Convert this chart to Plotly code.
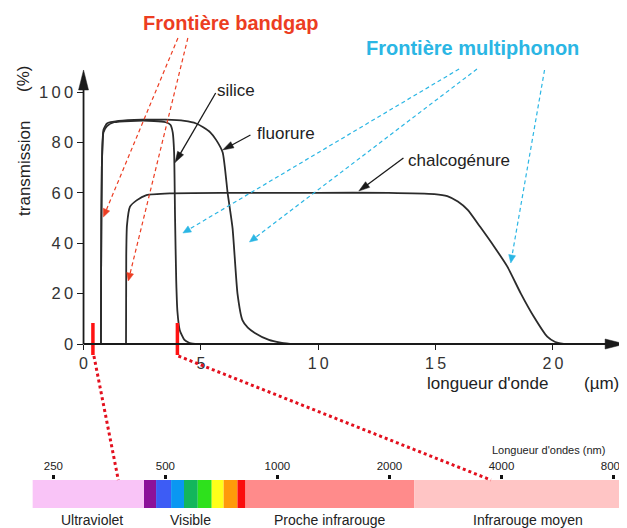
import math
import plotly.graph_objects as go

# transmission curves: wavelength (µm) / transmission (%)
silice_um = [0.74, 0.75, 0.78, 0.85, 1.0, 1.3, 2.0, 3.0, 3.5, 3.7, 3.8, 3.86, 3.9, 3.95, 4.0, 4.1, 4.3, 4.5, 4.75]
silice_pct = [0, 30, 70, 84, 86.5, 88, 88.5, 88.5, 88, 87, 84, 76, 50, 25, 13, 5.5, 1.6, 0.5, 0]

fluorure_um = [0.74, 0.75, 0.78, 0.85, 1.0, 1.5, 2.5, 3.5, 4.3, 4.8, 5.1, 5.4, 5.65, 5.93, 6.14, 6.35,
               6.56, 6.77, 7.0, 7.3, 7.9, 8.4, 8.8]
fluorure_pct = [0, 30, 70, 85, 87.5, 88.5, 89, 89, 88.5, 87.5, 86, 84, 81, 76, 60, 46,
                20, 9.5, 6.5, 4.4, 1.6, 0.5, 0]

chalco_um = [1.81, 1.82, 1.85, 1.98, 2.26, 2.68, 3.67, 6, 10, 13, 14.95, 15.5, 15.95, 16.37, 16.9,
             17.5, 18.06, 18.63, 19.19, 19.76, 20.1, 20.46]
chalco_pct = [0, 35, 47, 54.5, 57, 59.1, 59.8, 60, 60, 60, 59.5, 58.7, 56.5, 53.2, 46.5,
              38.6, 30.7, 20.1, 10.8, 2.9, 0.8, 0]

x_ticks = [0, 5, 10, 15, 20]
y_ticks = [0, 20, 40, 60, 80, 100]

# red marks on the wavelength axis (µm)
marker_um = [0.4, 4.0]

# spectrum strip (nm)
spectrum_edges_nm = [220, 438, 472, 518, 561, 611, 666, 717, 781, 821, 2333, 8700]
spectrum_colors = ["#f9c4f7", "#8c1199", "#3d5cf5", "#0a97f2", "#13b65c", "#2ee11c",
                   "#ffff1a", "#ff9a0a", "#fb0d0d", "#ff8b8b", "#ffc5c5"]
spectrum_ticks_nm = [250, 500, 1000, 2000, 4000, 8000]
spectrum_regions = ["Ultraviolet", "Visible", "Proche infrarouge", "Infrarouge moyen"]

# ---- geometry (window pixels); the page body shifts the figure by 8px
PAGE_W, PAGE_H = 627, 528
OFF = 8
W, H = PAGE_W - OFF, PAGE_H - OFF
X0, KX = 80, 23.62      # px of 0 µm, px per µm
Y0, KY = 344, 2.52      # px of 0 %, px per %
TOP, BOTTOM = 60, 362
BAR_TOP, BAR_BOT = 480, 508
NM_PX0, NM_OCT = 49.6, 112.77   # px of 250 nm, px per octave
FONT = "Liberation Sans, Arial, sans-serif"
RED = "#ec3d22"
CYAN = "#2bb6e4"
INK = "#222222"
AXIS = "#1a1a1a"


def um_px(um):
    return X0 + um * KX


def pct_py(p):
    return Y0 - p * KY


def P(xp, yp):
    return (xp - OFF) / W, 1 - (yp - OFF) / H


def nm_log(xp):
    return math.log10(250) + (xp - NM_PX0) / NM_OCT * math.log10(2)


shapes = []
annotations = []


def line(x0, y0, x1, y1, color, width, dash="solid"):
    a, b = P(x0, y0)
    c, d = P(x1, y1)
    shapes.append(dict(type="line", xref="paper", yref="paper", x0=a, y0=b, x1=c, y1=d,
                       line=dict(color=color, width=width, dash=dash)))


def arrow(x0, y0, x1, y1, color, width, hl, hw, dash="solid"):
    L = math.hypot(x1 - x0, y1 - y0)
    dx, dy = (x1 - x0) / L, (y1 - y0) / L
    bx, by = x1 - dx * hl, y1 - dy * hl
    line(x0, y0, bx + dx * 2, by + dy * 2, color, width, dash)
    nx, ny = -dy, dx
    pts = [(x1, y1), (bx + nx * hw / 2, by + ny * hw / 2), (bx - nx * hw / 2, by - ny * hw / 2)]
    path = "M" + " L".join("%.5f,%.5f" % P(*p) for p in pts) + " Z"
    shapes.append(dict(type="path", xref="paper", yref="paper", path=path,
                       fillcolor=color, line=dict(color=color, width=0.5)))


def text(s, xp, yp, size, color=INK, bold=False, angle=0):
    a, b = P(xp, yp)
    annotations.append(dict(text="<b>%s</b>" % s if bold else s, x=a, y=b, xref="paper", yref="paper",
                            showarrow=False, xanchor="center", yanchor="middle", textangle=angle,
                            font=dict(family=FONT, size=size, color=color)))


fig = go.Figure()

# spectrum strip
for i, c in enumerate(spectrum_colors):
    a, b = spectrum_edges_nm[i], spectrum_edges_nm[i + 1]
    fig.add_trace(go.Scatter(x=[a, b, b, a, a], y=[0, 0, 1, 1, 0], fill="toself", fillcolor=c,
                             mode="lines", line=dict(width=0, color=c), xaxis="x2", yaxis="y2",
                             hoverinfo="skip", showlegend=False))

# curves
for xs, ys in [(silice_um, silice_pct), (fluorure_um, fluorure_pct), (chalco_um, chalco_pct)]:
    fig.add_trace(go.Scatter(x=xs, y=ys, mode="lines", line=dict(color="#2b2b2b", width=1.8,
                             shape="spline", smoothing=0.5), hoverinfo="skip", showlegend=False))

# red marks
mx, my = [], []
for m in marker_um:
    mx += [m, m, None]
    my += [-4.4, 8.3, None]
fig.add_trace(go.Scatter(x=mx, y=my, mode="lines", line=dict(color="#ff1212", width=3.5),
                         hoverinfo="skip", showlegend=False))

# axes with arrowheads
arrow(X0, Y0, 625, Y0, AXIS, 1.8, 20, 10)
arrow(X0, Y0, X0, 70, AXIS, 1.8, 20, 10)

# curve labels
arrow(213, 93, um_px(3.9), pct_py(72), AXIS, 1.3, 11, 7)
arrow(248, 135, um_px(5.93), pct_py(77), AXIS, 1.3, 11, 7)
arrow(402, 158, um_px(11.73), pct_py(60.7), AXIS, 1.3, 11, 7)
text("silice", 233, 90, 17)
text("fluorure", 284, 133, 17)
text("chalcogénure", 458, 160, 17)

# boundaries
text("Frontière bandgap", 228, 23, 20, RED, bold=True)
text("Frontière multiphonon", 471, 48, 20, CYAN, bold=True)
arrow(175, 38, 100, 217, RED, 1.2, 8, 7, "4px,3px")
arrow(185, 38, 125, 281, RED, 1.2, 8, 7, "4px,3px")
arrow(458, 69, 180, 233, CYAN, 1.2, 8, 7, "4px,3px")
arrow(476, 69, 247, 242, CYAN, 1.2, 8, 7, "4px,3px")
arrow(544, 70, 510, 263, CYAN, 1.2, 8, 7, "4px,3px")

# links to the spectrum
line(um_px(marker_um[0]) + 1, 356, 115, BAR_TOP, "#e3101e", 3, "3px,3px")
line(um_px(marker_um[1]) + 1, 356, 490, BAR_TOP, "#e3101e", 3, "3px,3px")

# axis titles
text("transmission", 20, 168, 17, angle=-90)
text("(%)", 20, 79, 17, angle=-90)
text("longueur d'onde", 487, 383, 17)
text("(µm)", 601, 383, 17)

# spectrum labels
text("Longueur d'ondes (nm)", 548, 450, 11)
for s, xp in zip(spectrum_regions, [89, 188, 328, 527]):
    text(s, xp, 520, 14)

fig.update_layout(
    width=W, height=H, margin=dict(l=0, r=0, t=0, b=0),
    paper_bgcolor="white", plot_bgcolor="white",
    shapes=shapes, annotations=annotations,
    xaxis=dict(domain=[(X0 - OFF) / W, 1], range=[0, (PAGE_W - X0) / KX], anchor="free",
               position=1 - (Y0 - OFF) / H,
               tickvals=x_ticks, ticktext=["\u2009".join(str(v)) for v in x_ticks],
               ticks="outside", ticklen=5, tickwidth=1.4, tickcolor=AXIS,
               tickfont=dict(family=FONT, size=16, color="#333"),
               showgrid=False, zeroline=False, showline=False),
    yaxis=dict(domain=[1 - (BOTTOM - OFF) / H, 1 - (TOP - OFF) / H],
               range=[(Y0 - BOTTOM) / KY, (Y0 - TOP) / KY],
               anchor="x", tickvals=y_ticks, ticktext=["\u2009".join(str(v)) for v in y_ticks],
               ticks="outside", ticklen=6, tickwidth=1.4, tickcolor=AXIS,
               tickfont=dict(family=FONT, size=16.5, color="#333"), ticklabelstandoff=0,
               showgrid=False, zeroline=False, showline=False),
    xaxis2=dict(domain=[0, 1], type="log", range=[nm_log(OFF), nm_log(PAGE_W)], anchor="y2",
                side="top", tickvals=spectrum_ticks_nm, ticktext=[str(v) for v in spectrum_ticks_nm],
                ticks="outside", ticklen=4, tickwidth=2.5, tickcolor="#111",
                tickfont=dict(family=FONT, size=11.5, color=INK), ticklabeloverflow="allow",
                showgrid=False, zeroline=False, showline=False),
    yaxis2=dict(domain=[1 - (BAR_BOT - OFF) / H, 1 - (BAR_TOP - OFF) / H], range=[0, 1],
                anchor="x2", visible=False),
)

fig.write_html("out.html")
